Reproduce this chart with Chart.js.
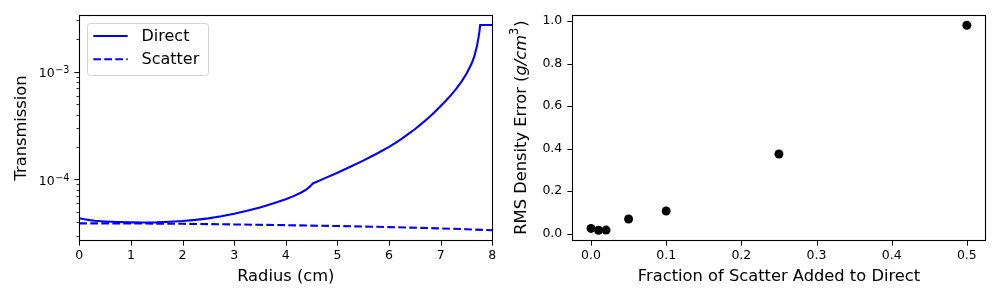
<!DOCTYPE html>
<html><head><meta charset="utf-8">
<script src="https://cdn.jsdelivr.net/npm/chart.js@4.4.1/dist/chart.umd.min.js"></script>
<style>
html,body{margin:0;padding:0;background:#fff;}
.box{position:absolute;top:0;width:500px;height:300px;}
</style></head><body>
<div class="box" style="left:0"><canvas id="c1" width="500" height="300"></canvas></div>
<div class="box" style="left:500px"><canvas id="c2" width="500" height="300"></canvas></div>
<script>
// ---------- data (left panel) ----------
const radius = [0,0.1,0.2,0.3,0.5,0.75,1.0,1.25,1.5,1.75,2.0,2.25,2.5,2.75,3.0,3.25,3.5,3.75,4.0,4.15,4.3,4.4,4.47,4.53,4.6,4.75,5.0,5.25,5.5,5.75,6.0,6.125,6.25,6.375,6.5,6.625,6.75,6.875,7.0,7.1,7.2,7.3,7.4,7.5,7.6,7.65,7.7,7.73,7.75,7.765,8.0];
const directT = [4.35e-5,4.26e-5,4.18e-5,4.12e-5,4.06e-5,4.01e-5,3.98e-5,3.97e-5,3.98e-5,4.03e-5,4.10e-5,4.20e-5,4.34e-5,4.53e-5,4.78e-5,5.10e-5,5.48e-5,5.95e-5,6.52e-5,6.98e-5,7.55e-5,8.05e-5,8.6e-5,9.2e-5,9.5e-5,1.02e-4,1.15e-4,1.31e-4,1.49e-4,1.72e-4,2.0e-4,2.18e-4,2.39e-4,2.64e-4,2.92e-4,3.27e-4,3.67e-4,4.17e-4,4.8e-4,5.37e-4,6.05e-4,6.92e-4,8.04e-4,9.55e-4,1.19e-3,1.38e-3,1.70e-3,2.04e-3,2.34e-3,2.71e-3,2.71e-3];
const scatterRadius = [0,1,2,3,4,5,6,7,7.5,8];
const scatterT = [3.90e-5,3.89e-5,3.86e-5,3.81e-5,3.75e-5,3.68e-5,3.60e-5,3.50e-5,3.44e-5,3.36e-5];
const radiusTicks = [0,1,2,3,4,5,6,7,8];
const transTicks = [3e-5,4e-5,5e-5,6e-5,7e-5,8e-5,9e-5,1e-4,2e-4,3e-4,4e-4,5e-4,6e-4,7e-4,8e-4,9e-4,1e-3,2e-3,3e-3];
const transLabelValues = [1e-4,1e-3];
const transLabelBase = "10";
const transLabelExps = ["\u22124","\u22123"];
const seriesNames = ["Direct","Scatter"];

// ---------- data (right panel) ----------
const fraction = [0,0.01,0.02,0.05,0.1,0.25,0.5];
const rmsError = [0.025,0.016,0.017,0.069,0.107,0.375,0.981];
const fracTicks = [0,0.1,0.2,0.3,0.4,0.5];
const errTicks = [0,0.2,0.4,0.6,0.8,1.0];

const FONT = "DejaVu Sans";
const BLUE = "#0000ff";

function isPow10(v){const l=Math.log10(v);return Math.abs(l-Math.round(l))<1e-9;}
function zeroPad(s){s.paddingTop=0;s.paddingBottom=0;s.paddingLeft=0;s.paddingRight=0;}

const framePlugin = {
  id:'frameTicks',
  afterDraw(chart){
    const ctx=chart.ctx, a=chart.chartArea;
    ctx.save();
    ctx.strokeStyle='#000';
    ctx.lineWidth=1;
    const xs=chart.scales.x, ys=chart.scales.y;
    xs.ticks.forEach(t=>{
      const p=Math.round(xs.getPixelForValue(t.value))+0.5;
      ctx.beginPath();ctx.moveTo(p,a.bottom);ctx.lineTo(p,a.bottom+4.9);ctx.stroke();
    });
    ys.ticks.forEach(t=>{
      const p=Math.round(ys.getPixelForValue(t.value))+0.5;
      const major = ys.type!=='logarithmic' || isPow10(t.value);
      ctx.lineWidth = major?1:0.8;
      ctx.beginPath();ctx.moveTo(a.left,p);ctx.lineTo(a.left-(major?4.9:2.8),p);ctx.stroke();
    });
    ctx.lineWidth=1.1;
    ctx.strokeRect(Math.round(a.left)+0.5,Math.round(a.top)+0.5,Math.round(a.right-a.left),Math.round(a.bottom-a.top));
    ctx.restore();
  }
};

function drawXTitle(chart, xTitle){
  const ctx=chart.ctx,a=chart.chartArea;
  ctx.save();
  ctx.fillStyle='#000';
  ctx.font='16.3px '+FONT;
  ctx.textAlign='center';ctx.textBaseline='middle';
  ctx.fillText(xTitle,(a.left+a.right)/2,276.5);
  ctx.restore();
}

// ---------- left chart ----------
const leftPlugin = {
  id:'leftDeco',
  afterDraw(chart){
    const ctx=chart.ctx,a=chart.chartArea,ys=chart.scales.y;
    drawXTitle(chart,'Radius (cm)');
    ctx.save();
    ctx.translate(21.7,(a.top+a.bottom)/2);
    ctx.rotate(-Math.PI/2);
    ctx.fillStyle='#000';ctx.font='16.3px '+FONT;
    ctx.textAlign='center';ctx.textBaseline='middle';
    ctx.fillText('Transmission',0,0);
    ctx.restore();
    // log tick labels (10 with superscript exponent)
    ctx.save();
    ctx.fillStyle='#000';ctx.textAlign='right';ctx.textBaseline='alphabetic';
    transLabelValues.forEach((v,i)=>{
      const py=ys.getPixelForValue(v);
      const xr=a.left-10;
      ctx.font='9.6px '+FONT;
      const ew=ctx.measureText(transLabelExps[i]).width;
      ctx.fillText(transLabelExps[i],xr,py+1.2);
      ctx.font='12.5px '+FONT;
      ctx.fillText(transLabelBase,xr-ew-0.5,py+5.2);
    });
    ctx.restore();
    // legend
    ctx.save();
    const bx=87.5,by=23.5,bw=121,bh=52,r=3;
    ctx.beginPath();
    ctx.moveTo(bx+r,by);ctx.lineTo(bx+bw-r,by);ctx.arcTo(bx+bw,by,bx+bw,by+r,r);
    ctx.lineTo(bx+bw,by+bh-r);ctx.arcTo(bx+bw,by+bh,bx+bw-r,by+bh,r);
    ctx.lineTo(bx+r,by+bh);ctx.arcTo(bx,by+bh,bx,by+bh-r,r);
    ctx.lineTo(bx,by+r);ctx.arcTo(bx,by,bx+r,by,r);ctx.closePath();
    ctx.fillStyle='rgba(255,255,255,0.8)';ctx.fill();
    ctx.strokeStyle='rgba(204,204,204,0.9)';ctx.lineWidth=1;ctx.stroke();
    const rows=[36,59.3];
    chart.data.datasets.forEach((ds,i)=>{
      ctx.strokeStyle=ds.borderColor;ctx.lineWidth=ds.borderWidth;
      ctx.setLineDash(ds.borderDash||[]);
      ctx.beginPath();ctx.moveTo(93.3,rows[i]);ctx.lineTo(127.7,rows[i]);ctx.stroke();
      ctx.setLineDash([]);
      ctx.fillStyle='#000';ctx.font='16px '+FONT;ctx.textAlign='left';ctx.textBaseline='middle';
      ctx.fillText(ds.label,141.5,rows[i]+0.5);
    });
    ctx.restore();
  }
};

new Chart(document.getElementById('c1'),{
  type:'line',
  data:{datasets:[
    {label:seriesNames[0],data:radius.map((r,i)=>({x:r,y:directT[i]})),borderColor:BLUE,borderWidth:2.1,pointRadius:0,tension:0,fill:false},
    {label:seriesNames[1],data:scatterRadius.map((r,i)=>({x:r,y:scatterT[i]})),borderColor:BLUE,borderWidth:2.1,borderDash:[7.7,3.3],pointRadius:0,tension:0,fill:false}
  ]},
  options:{
    responsive:false,animation:false,
    layout:{padding:{top:15.3,right:7.7,left:0,bottom:0}},
    plugins:{legend:{display:false},tooltip:{enabled:false}},
    scales:{
      x:{type:'linear',min:0,max:8,
        afterBuildTicks(s){s.ticks=radiusTicks.map(v=>({value:v}));},
        afterFit(s){s.height=59.3;zeroPad(s);},
        grid:{display:false,drawTicks:false},border:{display:false},
        ticks:{padding:7.5,color:'#000',font:{family:FONT,size:12.5},autoSkip:false,maxRotation:0,callback:v=>String(v)}},
      y:{type:'logarithmic',min:2.69e-5,max:3.34e-3,
        afterBuildTicks(s){s.ticks=transTicks.map(v=>({value:v,major:isPow10(v)}));},
        afterFit(s){s.width=79.3;zeroPad(s);},
        grid:{display:false,drawTicks:false},border:{display:false},
        ticks:{padding:10,color:'#000',font:{family:FONT,size:12.5},autoSkip:false,callback:()=>''}}
    }
  },
  plugins:[framePlugin,leftPlugin]
});

// ---------- right chart ----------
const rightPlugin = {
  id:'rightDeco',
  afterDraw(chart){
    const ctx=chart.ctx,a=chart.chartArea;
    drawXTitle(chart,'Fraction of Scatter Added to Direct');
    ctx.save();
    ctx.translate(21.5,(a.top+a.bottom)/2);
    ctx.rotate(-Math.PI/2);
    ctx.fillStyle='#000';ctx.textBaseline='middle';ctx.textAlign='left';
    const parts=[
      {t:'RMS Density Error (',f:'16.3px '+FONT,dy:0},
      {t:'g/cm',f:'italic 16.3px '+FONT,dy:0},
      {t:'3',f:'11.4px '+FONT,dy:-6.5},
      {t:')',f:'16.3px '+FONT,dy:0}
    ];
    let w=0;parts.forEach(p=>{ctx.font=p.f;p.w=ctx.measureText(p.t).width;w+=p.w;});
    let x=-w/2;
    parts.forEach(p=>{ctx.font=p.f;ctx.fillText(p.t,x,p.dy);x+=p.w+(p.t==='3'?1:0);});
    ctx.restore();
  }
};

new Chart(document.getElementById('c2'),{
  type:'scatter',
  data:{datasets:[{label:'RMS',data:fraction.map((f,i)=>({x:f,y:rmsError[i]})),
    backgroundColor:'#000',borderColor:'#000',pointRadius:4.5,pointBorderWidth:0}]},
  options:{
    responsive:false,animation:false,
    layout:{padding:{top:15.3,right:14.3,left:0,bottom:0}},
    plugins:{legend:{display:false},tooltip:{enabled:false}},
    scales:{
      x:{type:'linear',min:-0.0249,max:0.5251,
        afterBuildTicks(s){s.ticks=fracTicks.map(v=>({value:v}));},
        afterFit(s){s.height=59.3;zeroPad(s);},
        grid:{display:false,drawTicks:false},border:{display:false},
        ticks:{padding:7.5,color:'#000',font:{family:FONT,size:12.5},autoSkip:false,maxRotation:0,callback:v=>v.toFixed(1)}},
      y:{type:'linear',min:-0.033,max:1.028,
        afterBuildTicks(s){s.ticks=errTicks.map(v=>({value:v}));},
        afterFit(s){s.width=72.3;zeroPad(s);},
        grid:{display:false,drawTicks:false},border:{display:false},
        ticks:{padding:10,color:'#000',font:{family:FONT,size:12.5},autoSkip:false,callback:v=>v.toFixed(1)}}
    }
  },
  plugins:[framePlugin,rightPlugin]
});
</script>
</body></html>
